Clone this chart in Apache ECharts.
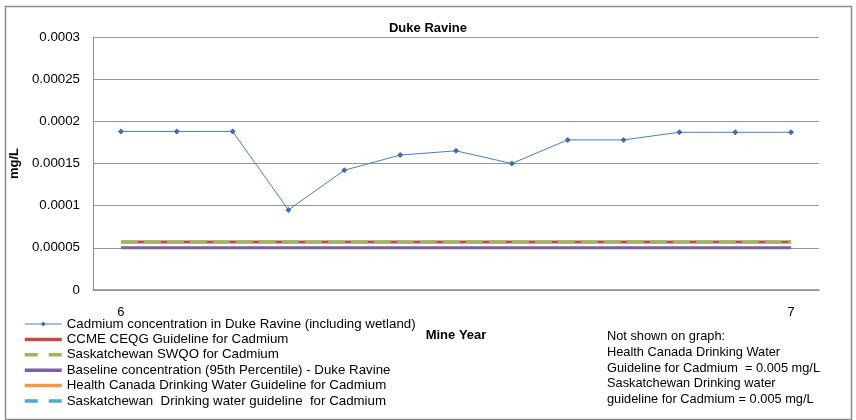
<!DOCTYPE html>
<html>
<head>
<meta charset="utf-8">
<script src="https://cdn.jsdelivr.net/npm/echarts@6/dist/echarts.min.js"></script>
<style>
html,body{margin:0;padding:0;background:#fff;}
#chart{width:856px;height:420px;}
</style>
</head>
<body>
<div id="chart"></div>
<script>
var categories = ['6','','','','','','','','','','','','7'];
var cadmium = [0.000188,0.000188,0.000188,0.000095,0.000142,0.00016,0.000165,0.00015,0.000178,0.000178,0.000187,0.000187,0.000187];
var ccme = [0.000057,0.000057,0.000057,0.000057,0.000057,0.000057,0.000057,0.000057,0.000057,0.000057,0.000057,0.000057,0.000057];
var swqo = [0.000057,0.000057,0.000057,0.000057,0.000057,0.000057,0.000057,0.000057,0.000057,0.000057,0.000057,0.000057,0.000057];
var baseline = [0.00005,0.00005,0.00005,0.00005,0.00005,0.00005,0.00005,0.00005,0.00005,0.00005,0.00005,0.00005,0.00005];
var healthCanada = [];
var saskDrinking = [];
var yTickLabels = ['0','0.00005','0.0001','0.00015','0.0002','0.00025','0.0003'];
var seriesNames = [
  'Cadmium concentration in Duke Ravine (including wetland)',
  'CCME CEQG Guideline for Cadmium',
  'Saskatchewan SWQO for Cadmium',
  'Baseline concentration (95th Percentile) - Duke Ravine',
  'Health Canada Drinking Water Guideline for Cadmium',
  'Saskatchewan  Drinking water guideline  for Cadmium'
];
var noteLines = [
  'Not shown on graph:',
  'Health Canada Drinking Water',
  'Guideline for Cadmium  = 0.005 mg/L',
  'Saskatchewan Drinking water',
  'guideline for Cadmium = 0.005 mg/L'
];

var FONT = 'Liberation Sans';
var chart = echarts.init(document.getElementById('chart'));

function refSeries(name, data, color, type) {
  return {
    name: name, type: 'line', data: data, symbol: 'none', showSymbol: false,
    lineStyle: {color: color, width: 3, type: type},
    itemStyle: {color: color},
    silent: true, animation: false
  };
}

var graphics = [{
  type: 'rect', left: 3, top: 4, z: 0,
  shape: {width: 846, height: 413},
  style: {fill: 'none', stroke: '#8c8c8c', lineWidth: 1.5}
}];
noteLines.forEach(function (t, i) {
  graphics.push({
    type: 'text', left: 607, top: 330 + i * 15.8,
    style: {text: t, font: '12.8px "' + FONT + '"', fill: '#000'}
  });
});

var hiddenSym = {opacity: 0, borderWidth: 0};

chart.setOption({
  animation: false,
  backgroundColor: '#fff',
  textStyle: {fontFamily: FONT},
  title: {
    text: 'Duke Ravine', left: 'center', top: 17,
    textStyle: {fontSize: 13, fontWeight: 'bold', color: '#000', fontFamily: FONT}
  },
  grid: {left: 93, right: 37, top: 37, bottom: 130, containLabel: false},
  legend: {
    orient: 'vertical', left: 23, top: 317, padding: 0,
    itemWidth: 37, itemHeight: 6, itemGap: 1.4,
    textStyle: {fontSize: 13.3, color: '#000', fontFamily: FONT, lineHeight: 14},
    lineStyle: {width: 3.5},
    data: [
      {name: seriesNames[0], lineStyle: {width: 1}},
      {name: seriesNames[1], itemStyle: hiddenSym},
      {name: seriesNames[2], itemStyle: hiddenSym, lineStyle: {type: [13, 11]}},
      {name: seriesNames[3], itemStyle: hiddenSym},
      {name: seriesNames[4], itemStyle: hiddenSym},
      {name: seriesNames[5], itemStyle: hiddenSym, lineStyle: {type: [13, 11]}}
    ]
  },
  xAxis: {
    type: 'category', data: categories, boundaryGap: true,
    name: 'Mine Year', nameLocation: 'middle', nameGap: 39,
    nameTextStyle: {fontSize: 13, fontWeight: 'bold', color: '#000', fontFamily: FONT},
    axisLine: {lineStyle: {color: '#8c8c8c', width: 1.5}},
    axisTick: {show: false},
    axisLabel: {interval: 0, margin: 16, fontSize: 13, color: '#000', fontFamily: FONT}
  },
  yAxis: {
    type: 'value', min: 0, max: 0.0003, interval: 0.00005,
    name: 'mg/L', nameLocation: 'middle', nameGap: 56, nameRotate: 90,
    nameTextStyle: {fontSize: 13, fontWeight: 'bold', color: '#000', fontFamily: FONT},
    axisLine: {show: true, lineStyle: {color: '#8c8c8c', width: 1}},
    axisTick: {show: false},
    splitLine: {lineStyle: {color: '#959595', width: 1}},
    axisLabel: {
      margin: 13, fontSize: 13.3, color: '#000', fontFamily: FONT,
      formatter: function (v) { return yTickLabels[Math.round(v / 0.00005)]; }
    }
  },
  series: [
    {
      name: seriesNames[0], type: 'line', data: cadmium,
      symbol: 'diamond', symbolSize: 6, z: 5,
      lineStyle: {color: '#4a7ebb', width: 1},
      itemStyle: {color: '#3e6eab'}
    },
    refSeries(seriesNames[1], ccme, '#be4b48', 'solid'),
    refSeries(seriesNames[2], swqo, '#98b954', [17, 6]),
    refSeries(seriesNames[3], baseline, '#7d60a0', 'solid'),
    refSeries(seriesNames[4], healthCanada, '#f79646', 'solid'),
    refSeries(seriesNames[5], saskDrinking, '#4bacc6', [12, 8])
  ],
  graphic: graphics
});
</script>
</body>
</html>
